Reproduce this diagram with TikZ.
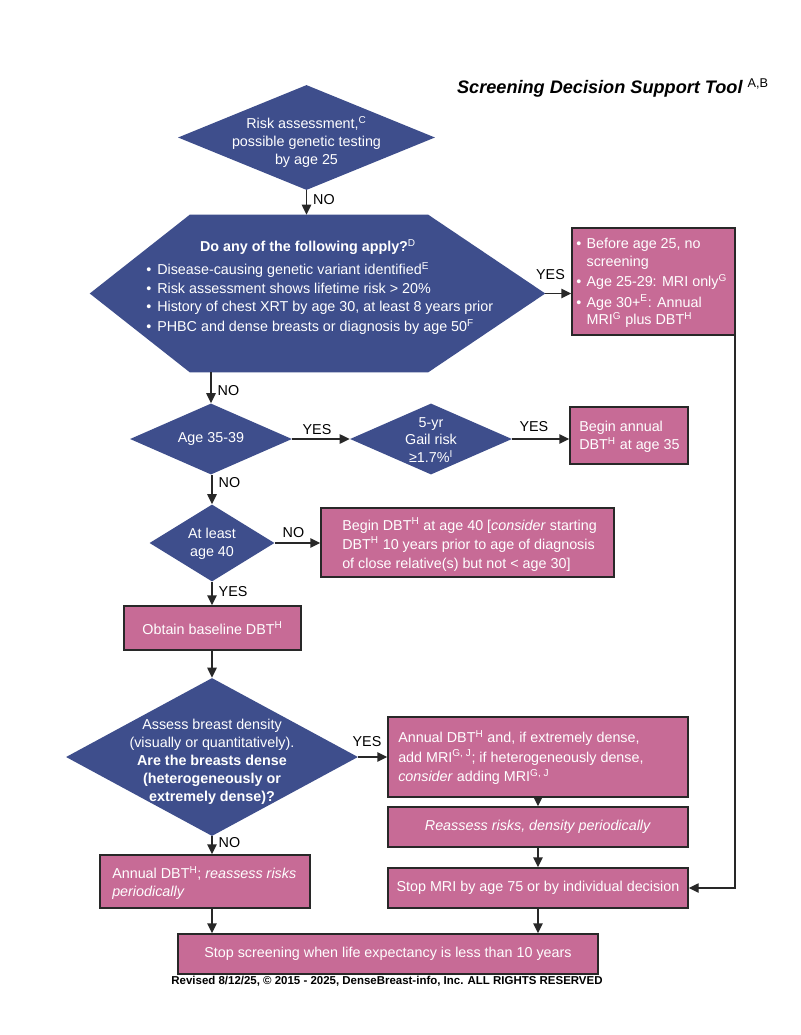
\documentclass[tikz,border=0pt]{standalone}
\usepackage{fontspec}
\setmainfont{Liberation Sans}
\usetikzlibrary{arrows.meta,shapes.geometric}
\definecolor{dblue}{RGB}{62,78,140}
\definecolor{dpink}{RGB}{199,107,150}
\definecolor{ink}{RGB}{40,40,40}
\newcommand{\bodyfont}{\fontsize{10.75pt}{13.4pt}\selectfont}
\begin{document}
\begin{tikzpicture}[x=0.75pt,y=-0.75pt,
  dia/.style={diamond, fill=dblue, draw=none, inner sep=0pt},
  pbox/.style={rectangle, fill=dpink, draw=ink, line width=1.1pt, text=white, font=\bodyfont, align=center, inner sep=0pt},
  wtxt/.style={text=white, font=\bodyfont, align=center, inner sep=0pt},
  ltxt/.style={wtxt, anchor=west, align=left},
  arr/.style={draw=ink, line width=1.1pt, -{Triangle[length=7.5pt,width=7pt]}},
  lab/.style={font=\bodyfont, text=black, inner sep=2pt},
  vlab/.style={lab, anchor=west, inner xsep=4.5pt}]
\path[use as bounding box, fill=white] (0,0) rectangle (800,1035);

% title
\node[anchor=east, font=\fontsize{13.6pt}{16pt}\selectfont\bfseries\itshape, inner sep=0pt] (title) at (769,88) {Screening Decision Support Tool \textsuperscript{\normalfont A,B}};

% top diamond
\node[dia, minimum width=192.75pt, minimum height=78.75pt] (d1) at (306.5,137.5) {};
\node[wtxt] (d1t) at (306.5,142) {Risk assessment,\textsuperscript{C}\\possible genetic testing\\by age 25};

% hexagon
\node[inner sep=0pt, minimum width=341.25pt, minimum height=117.75pt] (hex) at (317.5,293.5) {};
\fill[dblue] (hex.west) -- ([xshift=75pt]hex.north west) -- ([xshift=-87.75pt]hex.north east) -- (hex.east) -- ([xshift=-87.75pt]hex.south east) -- ([xshift=75pt]hex.south west) -- cycle;
\node[wtxt, font=\bodyfont\bfseries] (hext1) at (308,247) {Do any of the following apply?\textsuperscript{\normalfont D}};
\node[ltxt, font=\fontsize{10.75pt}{14pt}\selectfont] (hext2) at (146,299.5) {\begin{tabular}{@{}c@{\hspace{4.5pt}}l@{}}
\textbullet & Disease-causing genetic variant identified\textsuperscript{E}\\
\textbullet & Risk assessment shows lifetime risk > 20\%\\
\textbullet & History of chest XRT by age 30, at least 8 years prior\\[1pt]
\textbullet & PHBC and dense breasts or diagnosis by age 50\textsuperscript{F}
\end{tabular}};

% right box
\node[pbox, minimum width=122.25pt, minimum height=80.25pt] (rb) at (653.5,281.5) {};
\node[ltxt] (rbt) at (576,283) {\begin{tabular}{@{}c@{\hspace{4pt}}l@{}}
\textbullet & Before age 25, no\\
 & screening\\[2pt]
\textbullet & Age 25-29: MRI only\textsuperscript{G}\\[2pt]
\textbullet & Age 30+\textsuperscript{E}: Annual\\
 & MRI\textsuperscript{G} plus DBT\textsuperscript{H}
\end{tabular}};

% row: age 35-39
\node[dia, minimum width=121.5pt, minimum height=53.25pt] (d2) at (211,439) {};
\node[wtxt] (d2t) at (211,439) {Age 35-39};
\node[dia, minimum width=121.5pt, minimum height=53.25pt] (d3) at (431,439) {};
\node[wtxt] (d3t) at (431,440) {5-yr\\Gail risk\\≥1.7\%\textsuperscript{I}};
\node[pbox, minimum width=88.5pt, minimum height=42.75pt] (b35) at (629,435.5) {};
\node[ltxt] (b35t) at (579,437) {Begin annual\\DBT\textsuperscript{H} at age 35};

% row: at least 40
\node[dia, minimum width=93.75pt, minimum height=57.75pt] (d4) at (212,543) {};
\node[wtxt] (d4t) at (212,543.5) {At least\\age 40};
\node[pbox, minimum width=219.75pt, minimum height=51.75pt] (b40) at (467.5,542.5) {};
\node[ltxt, font=\fontsize{10.75pt}{14.2pt}\selectfont] (b40t) at (342,544.5) {Begin DBT\textsuperscript{H} at age 40 [\emph{consider} starting\\DBT\textsuperscript{H} 10 years prior to age of diagnosis\\of close relative(s) but not < age 30]};

% baseline
\node[pbox, minimum width=132.75pt, minimum height=33pt] (bobt) at (212.5,628) {Obtain baseline DBT\textsuperscript{H}};

% density diamond
\node[dia, minimum width=219pt, minimum height=118.5pt] (d5) at (212,757) {};
\node[wtxt] (d5t) at (212,762) {Assess breast density\\(visually or quantitatively).\\\textbf{Are the breasts dense}\\\textbf{(heterogeneously or}\\\textbf{extremely dense)?}};

\node[pbox, minimum width=225pt, minimum height=60pt] (bann) at (538,757) {};
\node[ltxt, font=\fontsize{10.75pt}{14.8pt}\selectfont] (bannt) at (398,757.5) {Annual DBT\textsuperscript{H} and, if extremely dense,\\add MRI\textsuperscript{G, J}; if heterogeneously dense,\\\emph{consider} adding MRI\textsuperscript{G, J}};
\node[pbox, minimum width=225pt, minimum height=30pt] (brea) at (538,827) {\emph{Reassess risks, density periodically}};
\node[pbox, minimum width=225pt, minimum height=30pt] (bmri) at (538,888) {Stop MRI by age 75 or by individual decision};
\node[pbox, minimum width=157.5pt, minimum height=39.75pt] (bleft) at (205,881.5) {};
\node[ltxt] (bleftt) at (112,883) {Annual DBT\textsuperscript{H}; \emph{reassess risks}\\\emph{periodically}};
\node[pbox, minimum width=315pt, minimum height=30pt] (bstop) at (388,954) {Stop screening when life expectancy is less than 10 years};

% footer
\node[font=\fontsize{8.6pt}{10pt}\selectfont\bfseries, inner sep=0pt] (foot) at (387,981) {Revised 8/12/25, © 2015 - 2025, DenseBreast-info, Inc. ALL RIGHTS RESERVED};

% connectors
\draw[arr] (d1.south) -- node[vlab, pos=0.4] {NO} (hex.north -| d1.south);
\draw[arr] (hex.east) -- node[lab, anchor=south, pos=0.2, yshift=8pt] {YES} (hex.east -| rb.west);
\draw[arr] (hex.south -| d2.north) -- node[vlab, pos=0.6] {NO} (d2.north);
\draw[arr] (d2.east) -- node[lab, anchor=south, pos=0.43, yshift=1pt] {YES} (d3.west);
\draw[arr] (d3.east) -- node[lab, anchor=south, pos=0.38, yshift=3pt] {YES} (d3.east -| b35.west);
\draw[arr] (d2.south -| d4.north) -- node[vlab, pos=0.28] {NO} (d4.north);
\draw[arr] (d4.east) -- node[lab, anchor=south, pos=0.41, yshift=1.5pt] {NO} (d4.east -| b40.west);
\draw[arr] (d4.south) -- node[vlab, pos=0.42] {YES} (bobt.north -| d4.south);
\draw[arr] (bobt.south -| d5.north) -- (d5.north);
\draw[arr] (d5.east) -- node[lab, anchor=south, pos=0.3, yshift=5pt] {YES} (bann.west);
\draw[arr] (d5.south) -- node[vlab, pos=0.37] {NO} (bleft.north -| d5.south);
\draw[arr] (bann.south) -- (brea.north);
\draw[arr] (brea.south) -- (bmri.north);
\draw[arr] (bmri.south) -- (bstop.north -| bmri.south);
\draw[arr] (bleft.south -| d5.south) -- (bstop.north -| d5.south);
\draw[arr] ([xshift=-0.55pt]rb.south east) |- (bmri.east);
\end{tikzpicture}
\end{document}
